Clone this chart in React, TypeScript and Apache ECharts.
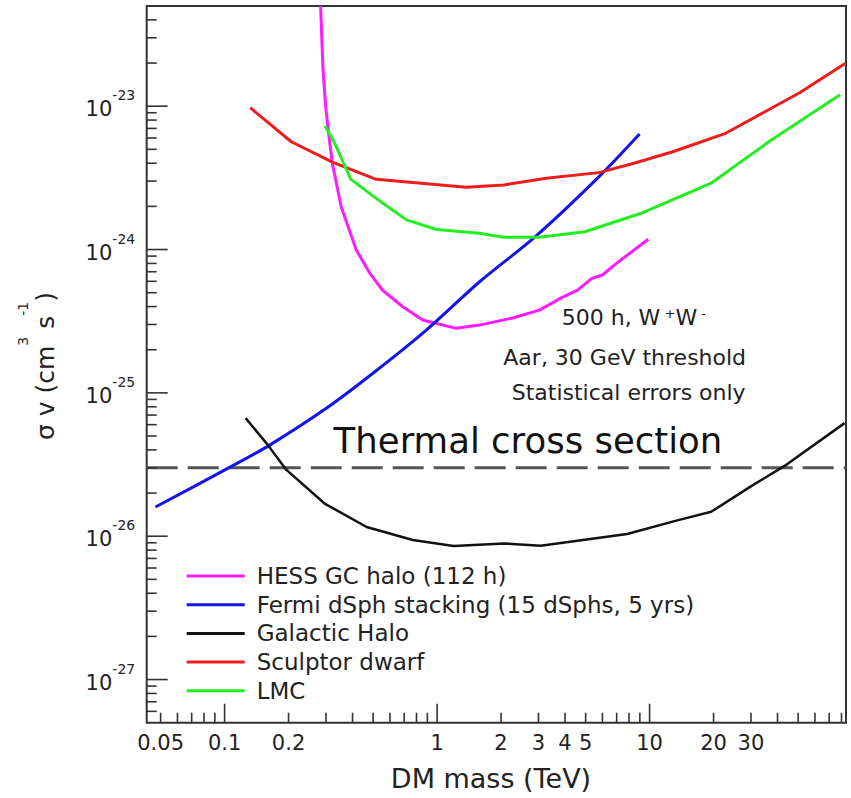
import React, { useEffect, useRef } from 'react';
import * as echarts from 'echarts';

const FONT = '"DejaVu Sans", sans-serif';

// Axis ranges
const X_MIN = 0.043;
const X_MAX = 84;
const Y_MIN = 5e-28;
const Y_MAX = 5e-23;

// Ticks and labels
const xMajorTicks = [0.1, 1, 10];
const xMinorTicks = [0.05, 0.06, 0.07, 0.08, 0.09, 0.2, 0.3, 0.4, 0.5, 0.6, 0.7, 0.8, 0.9, 2, 3, 4, 5, 6, 7, 8, 9, 20, 30, 40, 50, 60, 70, 80];
const xTickLabels = [0.05, 0.1, 0.2, 1, 2, 3, 4, 5, 10, 20, 30];
const yMajorTicks = [1e-27, 1e-26, 1e-25, 1e-24, 1e-23];
const yTickExponents = [-27, -26, -25, -24, -23];
const yMinorTicks = [
  6e-28, 7e-28, 8e-28, 9e-28,
  2e-27, 3e-27, 4e-27, 5e-27, 6e-27, 7e-27, 8e-27, 9e-27,
  2e-26, 3e-26, 4e-26, 5e-26, 6e-26, 7e-26, 8e-26, 9e-26,
  2e-25, 3e-25, 4e-25, 5e-25, 6e-25, 7e-25, 8e-25, 9e-25,
  2e-24, 3e-24, 4e-24, 5e-24, 6e-24, 7e-24, 8e-24, 9e-24,
  2e-23, 3e-23, 4e-23,
];

// Series data (DM mass in TeV, sigma v in cm^3 s^-1)
const hessMass = [0.283, 0.29, 0.2988, 0.3086, 0.3213, 0.354, 0.417, 0.481, 0.554, 0.69, 0.855, 1.23, 1.585, 2.27, 3.03, 3.86, 4.58, 5.35, 6.0, 6.98, 9.85];
const hessSigma = [5e-23, 1.89e-23, 1.0e-23, 6.5e-24, 4.0e-24, 1.98e-24, 9.9e-25, 6.88e-25, 5.2e-25, 3.99e-25, 3.22e-25, 2.82e-25, 2.97e-25, 3.33e-25, 3.78e-25, 4.62e-25, 5.21e-25, 6.29e-25, 6.64e-25, 8.0e-25, 1.18e-24];

const fermiMass = [0.0473, 0.1056, 0.163, 0.301, 0.499, 0.89, 1.585, 2.88, 5.69, 8.97];
const fermiSigma = [1.6e-26, 3.02e-26, 4.32e-26, 7.8e-26, 1.37e-25, 2.74e-25, 5.96e-25, 1.22e-24, 3.15e-24, 6.4e-24];

const haloMass = [0.1256, 0.16, 0.1937, 0.2955, 0.466, 0.769, 1.196, 2.07, 3.07, 7.84, 13.5, 19.5, 29.7, 43.0, 82.7];
const haloSigma = [6.67e-26, 4.32e-26, 2.94e-26, 1.69e-26, 1.16e-26, 9.4e-27, 8.53e-27, 8.9e-27, 8.57e-27, 1.035e-26, 1.29e-26, 1.48e-26, 2.21e-26, 3.08e-26, 6.15e-26];

const sculptorMass = [0.132, 0.206, 0.3235, 0.517, 1.369, 2.06, 3.26, 5.77, 8.45, 12.85, 22.8, 50.8, 83.6];
const sculptorSigma = [9.76e-24, 5.65e-24, 4.06e-24, 3.09e-24, 2.72e-24, 2.82e-24, 3.14e-24, 3.44e-24, 4.0e-24, 4.81e-24, 6.47e-24, 1.24e-23, 1.99e-23];

const lmcMass = [0.297, 0.33, 0.392, 0.556, 0.718, 0.995, 1.585, 2.06, 3.02, 4.96, 9.12, 19.6, 37.4, 78.8];
const lmcSigma = [7.28e-24, 5.51e-24, 3.1e-24, 2.1e-24, 1.61e-24, 1.38e-24, 1.3e-24, 1.22e-24, 1.22e-24, 1.33e-24, 1.79e-24, 2.92e-24, 5.81e-24, 1.2e-23];

const thermalMass = [X_MIN, X_MAX];
const THERMAL = 3e-26;

const seriesNames = [
  'HESS GC halo (112 h)',
  'Fermi dSph stacking (15 dSphs, 5 yrs)',
  'Galactic Halo',
  'Sculptor dwarf',
  'LMC',
];

function lineSeries(name: string, mass: number[], sigma: number[], color: string, width: number, smooth: number | boolean = false) {
  return {
    name,
    type: 'line',
    data: mass.map((m, i) => [m, sigma[i]]),
    symbol: 'none',
    showSymbol: false,
    smooth,
    lineStyle: { color, width },
    itemStyle: { color },
    z: 4,
  };
}

export default function App() {
  const ref = useRef<HTMLDivElement>(null);

  useEffect(() => {
    if (!ref.current) return;
    const chart = echarts.init(ref.current, undefined, { renderer: 'svg' });

    const option: any = {
      animation: false,
      backgroundColor: '#ffffff',
      grid: {
        left: 146.7,
        right: 5,
        top: 6,
        bottom: 75.3,
        show: true,
        borderColor: '#333',
        borderWidth: 2,
        backgroundColor: 'transparent',
      },
      xAxis: {
        type: 'log',
        logBase: 10,
        min: X_MIN,
        max: X_MAX,
        axisLine: { show: false },
        axisTick: { show: false },
        axisLabel: { show: false },
        splitLine: { show: false },
      },
      yAxis: {
        type: 'log',
        logBase: 10,
        min: Y_MIN,
        max: Y_MAX,
        axisLine: { show: false },
        axisTick: { show: false },
        axisLabel: { show: false },
        splitLine: { show: false },
      },
      legend: {
        orient: 'vertical',
        left: 186.7,
        top: 564.5,
        padding: 0,
        itemGap: 5.7,
        itemWidth: 58,
        itemHeight: 3,
        icon: 'rect',
        selectedMode: false,
        data: seriesNames,
        textStyle: { fontSize: 23, fontFamily: FONT, color: '#222', lineHeight: 23, padding: [0, 0, 0, 7] },
      },
      series: [
        lineSeries(seriesNames[0], hessMass, hessSigma, '#ff1aff', 3),
        lineSeries(seriesNames[1], fermiMass, fermiSigma, '#1212ee', 3, 0.3),
        lineSeries(seriesNames[2], haloMass, haloSigma, '#111111', 2.5),
        lineSeries(seriesNames[3], sculptorMass, sculptorSigma, '#ee1c1c', 3),
        lineSeries(seriesNames[4], lmcMass, lmcSigma, '#22ee22', 3),
        {
          name: 'Thermal',
          type: 'line',
          data: thermalMass.map((m) => [m, THERMAL]),
          symbol: 'none',
          lineStyle: { color: '#555', width: 3, type: [31, 10] },
          z: 3,
        },
        // x-axis ticks
        {
          type: 'custom',
          silent: true,
          z: 5,
          data: [...xMajorTicks.map((v) => [v, Y_MIN, 1]), ...xMinorTicks.map((v) => [v, Y_MIN, 0])],
          renderItem: (_p: any, api: any) => {
            const p = api.coord([api.value(0), Y_MIN]);
            const len = api.value(2) ? 19 : 10;
            return {
              type: 'line',
              shape: { x1: p[0], y1: p[1], x2: p[0], y2: p[1] - len },
              style: { stroke: '#333', lineWidth: 1.6 },
            };
          },
        },
        // y-axis ticks
        {
          type: 'custom',
          silent: true,
          z: 5,
          data: [...yMajorTicks.map((v) => [X_MIN, v, 1]), ...yMinorTicks.map((v) => [X_MIN, v, 0])],
          renderItem: (_p: any, api: any) => {
            const p = api.coord([X_MIN, api.value(1)]);
            const len = api.value(2) ? 21 : 10;
            return {
              type: 'line',
              shape: { x1: p[0], y1: p[1], x2: p[0] + len, y2: p[1] },
              style: { stroke: '#333', lineWidth: 1.6 },
            };
          },
        },
        // x tick labels
        {
          type: 'custom',
          silent: true,
          z: 5,
          data: xTickLabels.map((v) => [v, Y_MIN]),
          renderItem: (_p: any, api: any) => {
            const v = api.value(0);
            const p = api.coord([v, Y_MIN]);
            return {
              type: 'text',
              x: p[0],
              y: p[1] + 20.5,
              style: {
                text: String(v),
                fontSize: 21,
                fontFamily: FONT,
                fill: '#222',
                align: 'center',
                verticalAlign: 'middle',
              },
            };
          },
        },
        // y tick labels
        {
          type: 'custom',
          silent: true,
          z: 5,
          data: yMajorTicks.map((v, i) => [X_MIN, v, yTickExponents[i]]),
          renderItem: (_p: any, api: any) => {
            const p = api.coord([X_MIN, api.value(1)]);
            return {
              type: 'text',
              x: p[0] - 11.5,
              y: p[1] + 3,
              style: {
                text: '{b|10}{s|' + api.value(2) + '}',
                fill: '#222',
                align: 'right',
                verticalAlign: 'middle',
                rich: {
                  b: { fontSize: 21, lineHeight: 42, fontFamily: FONT, fill: '#222' },
                  s: { fontSize: 14, lineHeight: 14, verticalAlign: 'top', fontFamily: FONT, fill: '#222' },
                },
              },
            };
          },
        },
      ],
      graphic: [
        {
          type: 'text',
          x: 333.6,
          y: 440,
          z: 10,
          style: { text: 'Thermal cross section', fontSize: 35.5, fontFamily: FONT, fill: '#111', align: 'left', verticalAlign: 'middle' },
        },
        {
          type: 'text',
          x: 561.7,
          y: 317,
          z: 10,
          style: {
            text: '500 h, W{s| +}W{s| -}',
            fontSize: 22,
            fontFamily: FONT,
            lineHeight: 21,
            fill: '#222',
            align: 'left',
            verticalAlign: 'middle',
            rich: { s: { fontSize: 13, lineHeight: 13, verticalAlign: 'top', fontFamily: FONT, fill: '#222' } },
          },
        },
        {
          type: 'text',
          x: 503.3,
          y: 357,
          z: 10,
          style: { text: 'Aar, 30 GeV threshold', fontSize: 22, fontFamily: FONT, fill: '#222', align: 'left', verticalAlign: 'middle' },
        },
        {
          type: 'text',
          x: 511.7,
          y: 392,
          z: 10,
          style: { text: 'Statistical errors only', fontSize: 22, fontFamily: FONT, fill: '#222', align: 'left', verticalAlign: 'middle' },
        },
        {
          type: 'text',
          x: 491,
          y: 778,
          z: 10,
          style: { text: 'DM mass (TeV)', fontSize: 27, fontFamily: FONT, fill: '#222', align: 'center', verticalAlign: 'middle' },
        },
        {
          type: 'text',
          x: 45.5,
          y: 366,
          rotation: Math.PI / 2,
          z: 10,
          style: {
            text: '{b|σ v (cm}{s|3}{b| s}{s|-1}{b|)}',
            fill: '#222',
            align: 'center',
            verticalAlign: 'middle',
            rich: {
              b: { fontSize: 25, lineHeight: 60, fontFamily: FONT, fill: '#222' },
              s: { fontSize: 14, lineHeight: 14, verticalAlign: 'top', fontFamily: FONT, fill: '#222' },
            },
          },
        },
      ],
    };

    chart.setOption(option);
    return () => {
      chart.dispose();
    };
  }, []);

  return (
    <div
      ref={ref}
      style={{ position: 'absolute', left: 0, top: 0, width: 851, height: 798 }}
    />
  );
}
